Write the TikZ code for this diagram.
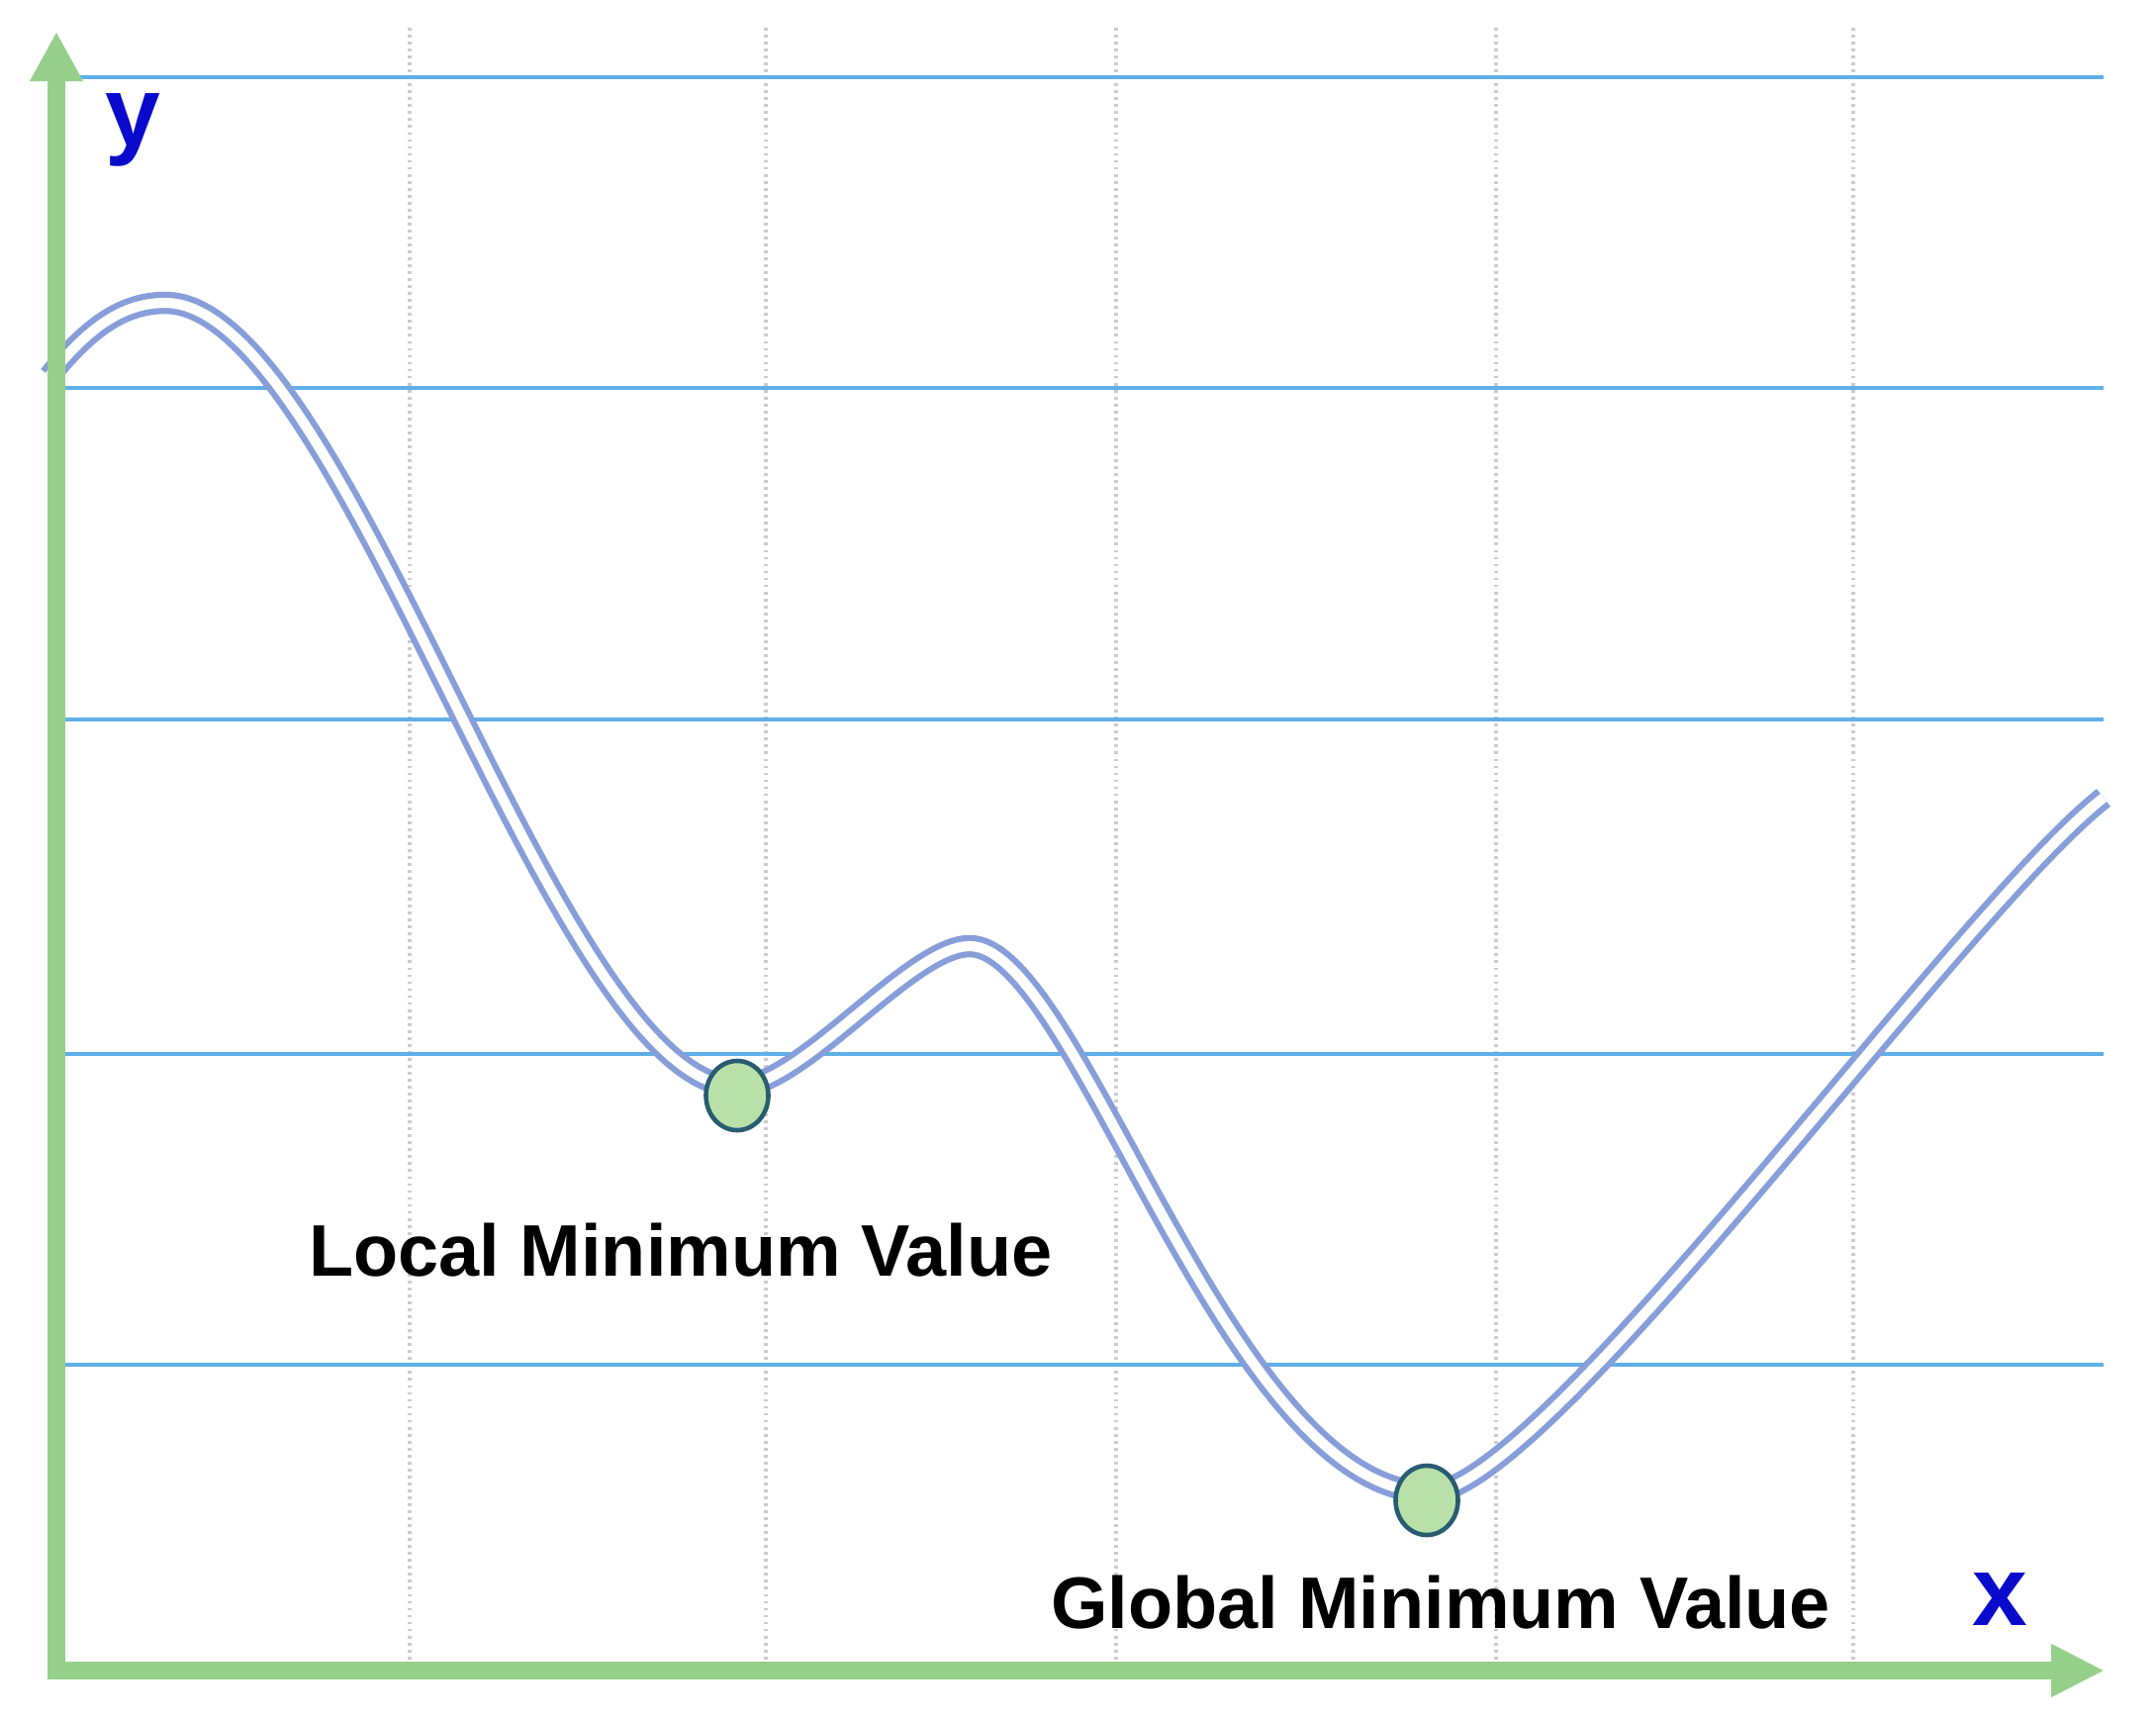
\documentclass[tikz,border=0pt]{standalone}
\usepackage{fontspec}
\setmainfont{Liberation Sans}
\usetikzlibrary{arrows.meta,shapes.geometric}
\definecolor{axisgreen}{RGB}{150,208,138}
\definecolor{hblue}{RGB}{95,175,232}
\definecolor{curveblue}{RGB}{135,158,218}
\definecolor{ptfill}{RGB}{184,224,168}
\definecolor{ptdraw}{RGB}{40,92,112}
\definecolor{labblue}{RGB}{10,10,205}
\tikzset{
  gridv/.style={draw=black!20, line width=0.9pt, dash pattern=on 0.8pt off 1.2pt},
  hline/.style={draw=hblue, line width=1.2pt},
  curve/.style={draw=curveblue, double=white, line width=1.75pt, double distance=2.9pt},
  axisline/.style={draw=axisgreen, line width=5.1pt, line join=miter,
    {Triangle[length=0.5cm,width=0.5cm]}-{Triangle[length=0.54cm,width=0.5cm]}},
  minpt/.style={ellipse, draw=ptdraw, fill=ptfill, line width=1.3pt, minimum width=0.63cm, minimum height=0.7cm, inner sep=0pt},
  lbl/.style={font=\fontsize{21pt}{25pt}\selectfont\bfseries, text=black, inner sep=0pt},
  axlbl/.style={font=\fontsize{28.5pt}{32pt}\selectfont\bfseries, text=labblue, inner sep=0pt}
}
\begin{document}
\begin{tikzpicture}[x=0.01cm,y=-0.01cm]
\useasboundingbox (0,0) rectangle (2179,1739);
\fill[white] (0,0) rectangle (2179,1739);
% vertical dotted grid
\foreach \gx in {414,774,1128,1512,1873} \draw[gridv] (\gx,28) -- (\gx,1690);
% horizontal lines
\foreach \gy in {78,392,727,1065,1379} \draw[hline] (48,\gy) -- (2126,\gy);
% curve
\draw[curve] (50,380) .. controls (90,330) and (125,306) .. (167,306)
  .. controls (350,306) and (560,1098) .. (745,1098)
  .. controls (810,1098) and (920,956) .. (980,956)
  .. controls (1090,956) and (1240,1508) .. (1445,1508)
  .. controls (1560,1508) and (1980,920) .. (2126,806);
% axes
\coordinate (ytip) at (57,32);
\coordinate (O) at (57,1688);
\coordinate (xtip) at (2127,1688);
\draw[axisline] (ytip) -- (O) -- (xtip);
% points
\node[minpt] (lmin) at (745,1107) {};
\node[minpt] (gmin) at (1442,1516) {};
% labels
\node[lbl, anchor=base] (llab) at (688,1289) {Local Minimum Value};
\node[lbl, anchor=base] (glab) at (1456,1645) {Global Minimum Value};
\node[axlbl, anchor=base] (ylab) at (134,147) {y};
\node[axlbl, anchor=base] (xlab) at (2021,1642) {x};
\end{tikzpicture}
\end{document}
